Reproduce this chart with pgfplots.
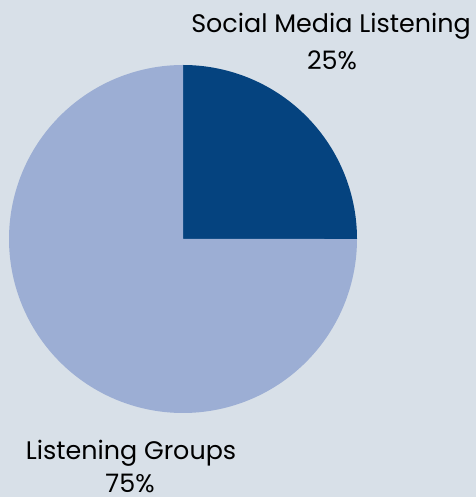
\documentclass[border=0pt]{standalone}
\usepackage{fontspec}
\setmainfont{Poppins}
\usepackage{pgfplots}
\usepackage{pgfplotstable}
\pgfplotsset{compat=1.18}
\definecolor{bgc}{HTML}{D8E0E8}
\definecolor{darkc}{HTML}{05437F}
\definecolor{lightc}{HTML}{9CAED4}
\pgfplotstableread{
label value
SocialMediaListening 25
ListeningGroups 75
}\piedata
\begin{document}
\begin{tikzpicture}
\pgfplotstablegetelem{0}{value}\of\piedata \let\va\pgfplotsretval
\pgfmathsetmacro\angA{90-360*\va/100}
\pgfmathsetmacro\angB{90-360}
\begin{axis}[
  scale only axis, width=476bp, height=497bp,
  xmin=0, xmax=476, ymin=0, ymax=497,
  axis line style={draw=none}, ticks=none,
  axis background/.style={fill=bgc},
  clip=false,
]
\addplot[fill=darkc, draw=none, domain=\angA:90, samples=120, variable=\t]
  ({183+174*cos(t)},{258+174*sin(t)}) -- (axis cs:183,258) -- cycle;
\addplot[fill=lightc, draw=none, domain=\angB:\angA, samples=240, variable=\t]
  ({183+174*cos(t)},{258+174*sin(t)}) -- (axis cs:183,258) -- cycle;
\node[anchor=base, font=\fontsize{25.5}{30}\selectfont] at (axis cs:331,464) {Social Media Listening};
\node[anchor=base, font=\fontsize{25.5}{30}\selectfont] at (axis cs:332,427) {25\%};
\node[anchor=base, font=\fontsize{25.5}{30}\selectfont] at (axis cs:131,37) {Listening Groups};
\node[anchor=base, inner sep=0pt, font=\fontsize{25.5}{30}\selectfont] at (axis cs:130,5) {75\%};
\end{axis}
\end{tikzpicture}
\end{document}
